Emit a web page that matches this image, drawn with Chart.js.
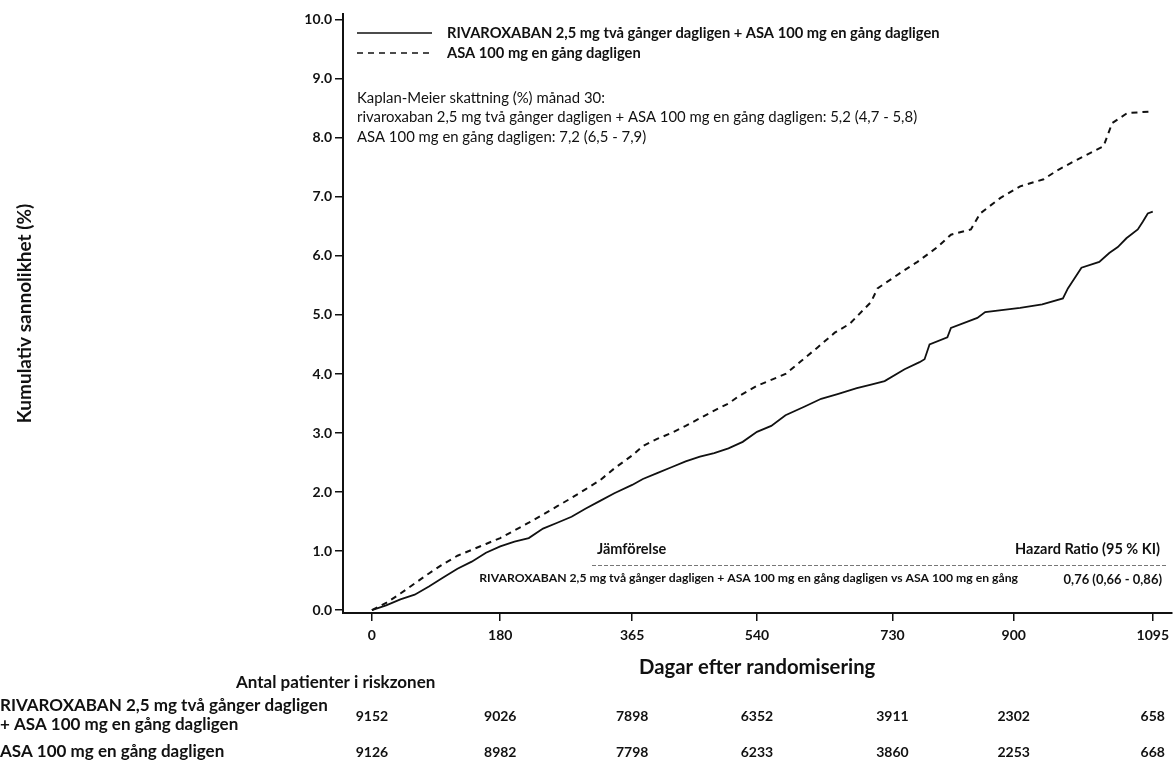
<!DOCTYPE html>
<html>
<head>
<meta charset="utf-8">
<script src="https://cdn.jsdelivr.net/npm/chart.js@4.4.0/dist/chart.umd.min.js"></script>
<style>
  html, body { margin: 0; padding: 0; background: #fff; }
  #wrap { width: 1175px; height: 761px; position: relative; }
</style>
</head>
<body>
<div id="wrap"><canvas id="kmChart"></canvas></div>
<script>
// --- data ---
const xTicks = [0, 180, 365, 540, 730, 900, 1095];
const yTicks = [0, 1, 2, 3, 4, 5, 6, 7, 8, 9, 10];

// rivaroxaban + ASA (solid)
const rivaDays = [0, 20, 40, 60, 80, 100, 120, 140, 160, 180, 200, 220, 240, 260, 280, 300, 320, 340, 365,
  380, 400, 420, 440, 460, 480, 500, 520, 540, 560, 580, 607, 630, 653, 680, 700, 719, 747, 768, 775, 782,
  807, 812, 849, 860, 909, 940, 969, 976, 995, 1020, 1034, 1046, 1058, 1074, 1081, 1088, 1095];
const rivaPct = [0, 0.08, 0.18, 0.26, 0.4, 0.55, 0.7, 0.82, 0.97, 1.08, 1.16, 1.22, 1.38, 1.48, 1.58, 1.72, 1.85, 1.98, 2.12,
  2.22, 2.32, 2.42, 2.52, 2.6, 2.66, 2.74, 2.85, 3.02, 3.12, 3.3, 3.45, 3.58, 3.66, 3.76, 3.82, 3.88, 4.08, 4.2, 4.25, 4.5,
  4.62, 4.78, 4.95, 5.05, 5.12, 5.18, 5.28, 5.45, 5.8, 5.9, 6.05, 6.15, 6.3, 6.45, 6.58, 6.72, 6.75];

// ASA alone (dashed)
const asaDays = [0, 20, 40, 60, 80, 100, 120, 140, 160, 180, 200, 220, 240, 260, 280, 300, 320, 340, 365,
  380, 400, 420, 440, 460, 480, 500, 514, 540, 560, 580, 602, 625, 649, 670, 700, 709, 742, 765, 793, 812,
  840, 853, 881, 909, 942, 961, 984, 1000, 1026, 1038, 1059, 1095];
const asaPct = [0, 0.12, 0.28, 0.45, 0.62, 0.78, 0.92, 1.02, 1.12, 1.22, 1.35, 1.48, 1.62, 1.76, 1.9, 2.05, 2.2, 2.4, 2.62,
  2.78, 2.9, 3.0, 3.12, 3.25, 3.38, 3.5, 3.62, 3.8, 3.9, 4.0, 4.22, 4.45, 4.7, 4.85, 5.22, 5.45, 5.72, 5.9, 6.15, 6.36,
  6.45, 6.72, 6.98, 7.18, 7.3, 7.45, 7.6, 7.7, 7.86, 8.25, 8.42, 8.45];

// number at risk, one per x tick
const atRiskRiva = [9152, 9026, 7898, 6352, 3911, 2302, 658];
const atRiskAsa = [9126, 8982, 7798, 6233, 3860, 2253, 668];

const labelRiva = 'RIVAROXABAN 2,5 mg två gånger dagligen + ASA 100 mg en gång dagligen';
const labelAsa = 'ASA 100 mg en gång dagligen';
const kmLines = [
  'Kaplan-Meier skattning (%) månad 30:',
  'rivaroxaban 2,5 mg två gånger dagligen + ASA 100 mg en gång dagligen: 5,2 (4,7 - 5,8)',
  'ASA 100 mg en gång dagligen: 7,2 (6,5 - 7,9)'
];
const hrComparison = 'RIVAROXABAN 2,5 mg två gånger dagligen + ASA 100 mg en gång dagligen vs ASA 100 mg en gång';
const hrValue = '0,76 (0,66 - 0,86)';

const INK = '#111';
const FONT = "Lato, 'Open Sans', sans-serif";

function toPoints(days, pct) {
  return days.map((d, i) => ({ x: d, y: pct[i] }));
}

// draws legend, KM text, hazard ratio box and the risk table
const kmText = {
  id: 'kmText',
  afterDraw(chart) {
    const ctx = chart.ctx;
    const xs = chart.scales.x;
    ctx.save();
    ctx.fillStyle = INK;
    ctx.strokeStyle = INK;
    ctx.textBaseline = 'middle';

    // legend
    ctx.lineWidth = 1.5;
    ctx.beginPath(); ctx.moveTo(357, 33); ctx.lineTo(432, 33); ctx.stroke();
    ctx.setLineDash([6, 5]);
    ctx.beginPath(); ctx.moveTo(357, 53); ctx.lineTo(432, 53); ctx.stroke();
    ctx.setLineDash([]);
    ctx.font = 'bold 14.7px ' + FONT;
    ctx.fillText(labelRiva, 447, 33);
    ctx.fillText(labelAsa, 447, 53);

    // KM estimate at month 30
    ctx.font = '14.9px ' + FONT;
    kmLines.forEach((t, i) => ctx.fillText(t, 357, 98 + i * 19.5));

    // hazard ratio box
    ctx.font = 'bold 14.5px ' + FONT;
    ctx.fillText('Jämförelse', 597, 549);
    ctx.textAlign = 'right';
    ctx.fillText('Hazard Ratio (95 % KI)', 1160, 549);
    ctx.strokeStyle = '#777';
    ctx.lineWidth = 1;
    ctx.setLineDash([4, 2]);
    ctx.beginPath(); ctx.moveTo(592, 565.5); ctx.lineTo(1168, 565.5); ctx.stroke();
    ctx.setLineDash([]);
    ctx.font = 'bold 12.2px ' + FONT;
    ctx.fillText(hrComparison, 1018, 578);
    ctx.font = 'bold 13px ' + FONT;
    ctx.fillText(hrValue, 1162, 580);

    // number at risk
    ctx.textAlign = 'left';
    ctx.font = 'bold 17px ' + FONT;
    ctx.fillText('Antal patienter i riskzonen', 236, 683);
    ctx.fillText('RIVAROXABAN 2,5 mg två gånger dagligen', 0, 706);
    ctx.fillText('+ ASA 100 mg en gång dagligen', 0, 725);
    ctx.fillText(labelAsa, 0, 752);
    ctx.textAlign = 'center';
    ctx.font = 'bold 14px ' + FONT;
    xTicks.forEach((d, i) => {
      const px = xs.getPixelForValue(d);
      ctx.fillText(String(atRiskRiva[i]), px, 716);
      ctx.fillText(String(atRiskAsa[i]), px, 752);
    });
    ctx.restore();
  }
};

const ctx = document.getElementById('kmChart').getContext('2d');
const kmChart = new Chart(ctx, {
  type: 'line',
  data: {
    datasets: [{
      label: labelRiva,
      data: toPoints(rivaDays, rivaPct),
      borderColor: INK,
      borderWidth: 1.8,
      pointRadius: 0,
      tension: 0,
      fill: false
    }, {
      label: labelAsa,
      data: toPoints(asaDays, asaPct),
      borderColor: INK,
      borderWidth: 2,
      borderDash: [6, 5],
      pointRadius: 0,
      tension: 0,
      fill: false
    }]
  },
  options: {
    responsive: true,
    maintainAspectRatio: false,
    animation: false,
    devicePixelRatio: 1,
    layout: { padding: { top: 14, right: 0, bottom: 0, left: 0 } },
    plugins: {
      legend: { display: false },
      tooltip: { enabled: false }
    },
    scales: {
      x: {
        type: 'linear',
        min: -40.5,
        max: 1121,
        afterBuildTicks: (scale) => { scale.ticks = xTicks.map(v => ({ value: v })); },
        afterFit: (scale) => { scale.height = 148; },
        grid: { drawOnChartArea: false, color: INK, lineWidth: 1.5, tickLength: 8 },
        border: { color: INK, width: 2 },
        ticks: {
          color: INK,
          font: { family: FONT, size: 14, weight: 'bold' },
          padding: 6,
          autoSkip: false,
          maxRotation: 0,
          callback: (v) => String(v)
        },
        title: {
          display: true,
          text: 'Dagar efter randomisering',
          color: INK,
          font: { family: FONT, size: 20.3, weight: 'bold' },
          padding: { top: 0, bottom: 81 }
        }
      },
      y: {
        min: -0.05,
        max: 10.1,
        afterBuildTicks: (scale) => { scale.ticks = yTicks.map(v => ({ value: v })); },
        afterFit: (scale) => { scale.width = 343; },
        grid: { drawOnChartArea: false, color: INK, lineWidth: 1.5, tickLength: 8 },
        border: { color: INK, width: 2 },
        ticks: {
          color: INK,
          font: { family: FONT, size: 14, weight: 'bold' },
          padding: 3,
          callback: (v) => Number(v).toFixed(1)
        },
        title: {
          display: true,
          text: 'Kumulativ sannolikhet (%)',
          color: INK,
          font: { family: FONT, size: 19, weight: 'bold' },
          padding: { top: 13.5, bottom: 0 }
        }
      }
    }
  },
  plugins: [kmText]
});
</script>
</body>
</html>
